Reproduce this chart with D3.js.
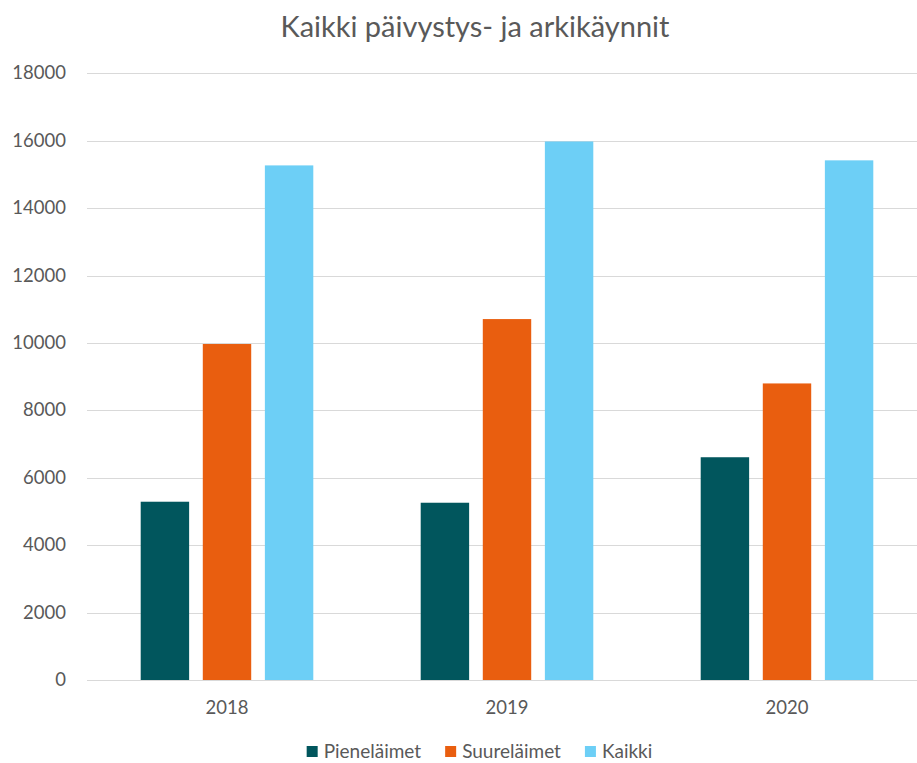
<!DOCTYPE html>
<html lang='fi'>
<head>
   <meta charset='UTF-8'>
   <title>Kaikki päivystys- ja arkikäynnit</title>
   <script src='https://d3js.org/d3.v7.min.js'></script>
   <style>
      body { margin: 0; background: #fff; }
      svg { display: block; font-family: 'Lato', 'Open Sans', sans-serif; }
   </style>
</head>
<body>
   <div id='chart'></div>
   <script>
      const years = ['2018', '2019', '2020'];
      const seriesNames = ['Pieneläimet', 'Suureläimet', 'Kaikki'];
      const pieneläimet = [5290, 5260, 6610];
      const suureläimet = [9970, 10710, 8800];
      const kaikki = [15270, 15980, 15420];
      const yTicks = [0, 2000, 4000, 6000, 8000, 10000, 12000, 14000, 16000, 18000];
      const colours = ['#01565d', '#e95e0f', '#6dcff6'];

      const W = 917, H = 763;
      const plot = { left: 87, right: 927, top: 73.4, bottom: 680 };

      const svg = d3.select('#chart').append('svg').attr('width', W).attr('height', H);

      const values = [pieneläimet, suureläimet, kaikki];
      const rows = years.map((yr, i) => ({ year: yr, vals: seriesNames.map((s, j) => ({ name: s, v: values[j][i], j })) }));

      const x0 = d3.scaleBand().domain(years).range([plot.left, plot.right])
         .paddingInner(0.3836).paddingOuter(0.1918);
      const x1 = d3.scaleBand().domain(seriesNames).range([0, x0.bandwidth()]).paddingInner(0.22);
      const y = d3.scaleLinear().domain([0, 18000]).range([plot.bottom, plot.top]);

      // title
      svg.append('text')
         .attr('x', 475).attr('y', 37)
         .attr('text-anchor', 'middle')
         .attr('font-size', 29)
         .attr('fill', '#595959')
         .text('Kaikki päivystys- ja arkikäynnit');

      // gridlines
      svg.append('g').selectAll('line').data(yTicks.filter(d => d > 0)).join('line')
         .attr('x1', plot.left).attr('x2', W)
         .attr('y1', d => Math.round(y(d)) + 0.5).attr('y2', d => Math.round(y(d)) + 0.5)
         .attr('stroke', '#d9d9d9').attr('stroke-width', 1);

      // y labels
      svg.append('g').selectAll('text').data(yTicks).join('text')
         .attr('x', 66).attr('y', d => y(d) + 6)
         .attr('text-anchor', 'end')
         .attr('font-size', 18.5)
         .attr('fill', '#595959')
         .text(d => d);

      // bars
      const groups = svg.append('g').selectAll('g').data(rows).join('g')
         .attr('transform', d => `translate(${x0(d.year)},0)`);
      groups.selectAll('rect').data(d => d.vals).join('rect')
         .attr('x', d => x1(d.name))
         .attr('width', x1.bandwidth())
         .attr('y', d => y(d.v))
         .attr('height', d => y(0) - y(d.v))
         .attr('fill', d => colours[d.j]);

      // x axis line
      svg.append('line')
         .attr('x1', plot.left).attr('x2', W)
         .attr('y1', plot.bottom + 0.5).attr('y2', plot.bottom + 0.5)
         .attr('stroke', '#d9d9d9').attr('stroke-width', 1.2);

      // x labels
      svg.append('g').selectAll('text').data(years).join('text')
         .attr('x', d => x0(d) + x0.bandwidth() / 2)
         .attr('y', 714)
         .attr('text-anchor', 'middle')
         .attr('font-size', 18.5)
         .attr('fill', '#595959')
         .text(d => d);

      // legend
      const legend = svg.append('g');
      let lx = 0;
      seriesNames.forEach((s, i) => {
         const item = legend.append('g').attr('transform', `translate(${lx},0)`);
         item.append('rect').attr('x', 0).attr('y', -12).attr('width', 11).attr('height', 11).attr('fill', colours[i]);
         const t = item.append('text').attr('x', 17).attr('y', 0)
            .attr('font-size', 19).attr('fill', '#595959').text(s);
         lx += 17 + t.node().getComputedTextLength() + 24;
      });
      const legendW = lx - 24;
      legend.attr('transform', `translate(${479.5 - legendW / 2},758)`);
   </script>
</body>
</html>
